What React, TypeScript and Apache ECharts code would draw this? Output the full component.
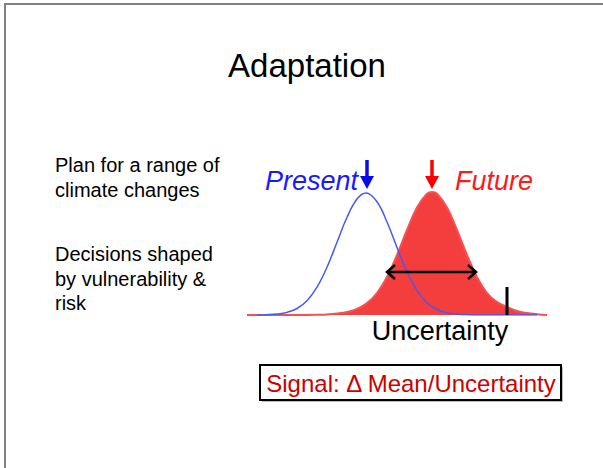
import React, { useEffect, useRef } from "react";
import * as echarts from "echarts";

// Curve samples (x: arbitrary units, y: height)
const presentX = [10, 20, 30, 40, 50, 60, 70, 80, 90, 100, 110, 119, 130, 140, 150, 160, 170, 180, 190, 200, 210, 220, 230, 240, 250, 260, 270, 280, 290];
const presentY = [0.1, 0.3, 0.9, 2.6, 6.5, 14.3, 27.8, 47.8, 72.7, 97.7, 116, 122, 113.2, 93, 67.5, 43.3, 24.6, 12.3, 5.5, 2.1, 0.7, 0.2, 0, 0, 0, 0, 0, 0, 0];
const futureX = [0, 10, 20, 30, 40, 50, 60, 70, 80, 90, 100, 110, 120, 130, 140, 150, 160, 170, 180, 185, 190, 200, 210, 220, 230, 240, 250, 260, 270, 280, 290, 300];
const futureY = [0, 0, 0, 0, 0, 0, 0, 0.2, 0.6, 1.5, 3, 6, 12, 22, 38, 60, 85, 107.6, 121.2, 123, 121.2, 107.6, 85, 60, 38, 22, 13, 8, 4, 2, 0.8, 0];

const presentMean = 119;
const futureMean = 185;
const uncertaintyRange = [140, 229];
const uncertaintyLevel = 43;
const tickX = 260;
const tickHeight = 28;

const titleText = "Adaptation";
const leftLines = ["Plan for a range of", "climate changes", "Decisions shaped", "by vulnerability &", "risk"];
const leftLineY = [165, 190, 254, 279, 303];

const FONT = "'Liberation Sans', Arial, sans-serif";

export default function App() {
  const ref = useRef<HTMLDivElement>(null);
  useEffect(() => {
    document.body.style.margin = "0";
    const chart = echarts.init(ref.current!, null, { renderer: "svg" });
    const zip = (xs: number[], ys: number[]) => xs.map((x, i) => [x, ys[i]]);
    chart.setOption({
      animation: false,
      backgroundColor: "#ffffff",
      grid: { left: 247, top: 185, width: 300, height: 130 },
      xAxis: { type: "value", min: 0, max: 300, show: false },
      yAxis: { type: "value", min: 0, max: 130, show: false },
      series: [
        {
          name: "Future",
          type: "line",
          data: zip(futureX, futureY),
          smooth: 0.4,
          symbol: "none",
          lineStyle: { color: "#f75050", width: 2 },
          areaStyle: { color: "#f43d3d", opacity: 1 },
          z: 2,
        },
        {
          name: "Present",
          type: "line",
          data: zip(presentX, presentY),
          smooth: 0.4,
          symbol: "none",
          lineStyle: { color: "#4a58f0", width: 1.5 },
          z: 3,
        },
      ],
    });

    const px = (x: number, y: number) => chart.convertToPixel({ gridIndex: 0 }, [x, y]) as number[];
    const pm = px(presentMean, 0);
    const fm = px(futureMean, 0);
    const a0 = px(uncertaintyRange[0], uncertaintyLevel);
    const a1 = px(uncertaintyRange[1], uncertaintyLevel);
    const t0 = px(tickX, 0);
    const t1 = px(tickX, tickHeight);

    const downArrow = (x: number, color: string) => [
      { type: "line", shape: { x1: x, y1: 160, x2: x, y2: 180 }, style: { stroke: color, lineWidth: 3.5 }, z: 10 },
      { type: "polygon", shape: { points: [[x - 7, 176], [x + 7, 176], [x, 189]] }, style: { fill: color }, z: 10 },
    ];

    const graphic: any[] = [
      { type: "rect", shape: { x: 5, y: 4, width: 700, height: 600 }, style: { fill: "none", stroke: "#808080", lineWidth: 2 }, z: 1 },
      { type: "text", x: 307, y: 65, style: { text: titleText, font: `33px ${FONT}`, fill: "#000", align: "center", verticalAlign: "middle" } },
      ...leftLines.map((t, i) => ({ type: "text", x: 55, y: leftLineY[i], style: { text: t, font: `20px ${FONT}`, fill: "#000", align: "left", verticalAlign: "middle" } })),
      { type: "text", x: 265, y: 181, style: { text: "Present", font: `italic 27px ${FONT}`, fill: "#1a1aff", align: "left", verticalAlign: "middle" } },
      { type: "text", x: 455, y: 181, style: { text: "Future", font: `italic 27px ${FONT}`, fill: "#ff1a1a", align: "left", verticalAlign: "middle" } },
      ...downArrow(pm[0] + 1, "#0a0ae6"),
      ...downArrow(fm[0], "#ff0000"),
      { type: "line", shape: { x1: a0[0], y1: a0[1], x2: a1[0], y2: a1[1] }, style: { stroke: "#000", lineWidth: 2.5 }, z: 10 },
      { type: "polyline", shape: { points: [[a0[0] + 8, a0[1] - 7], [a0[0], a0[1]], [a0[0] + 8, a0[1] + 7]] }, style: { stroke: "#000", lineWidth: 2.5, fill: "none" }, z: 10 },
      { type: "polyline", shape: { points: [[a1[0] - 8, a1[1] - 7], [a1[0], a1[1]], [a1[0] - 8, a1[1] + 7]] }, style: { stroke: "#000", lineWidth: 2.5, fill: "none" }, z: 10 },
      { type: "line", shape: { x1: t0[0], y1: t0[1], x2: t1[0], y2: t1[1] }, style: { stroke: "#000", lineWidth: 3 }, z: 10 },
      { type: "text", x: 440, y: 331, style: { text: "Uncertainty", font: `27px ${FONT}`, fill: "#000", align: "center", verticalAlign: "middle" } },
      { type: "rect", shape: { x: 262, y: 367, width: 301, height: 35 }, style: { fill: "#bbbbbb", stroke: "none" }, z: 9 },
      { type: "rect", shape: { x: 260, y: 365, width: 301, height: 35 }, style: { fill: "#ffffff", stroke: "#000", lineWidth: 2 }, z: 10 },
      { type: "text", x: 411, y: 383, z: 11, style: { text: "Signal: Δ Mean/Uncertainty", font: `24px ${FONT}`, fill: "#cc0000", align: "center", verticalAlign: "middle" } },
    ];
    chart.setOption({ graphic });
    return () => chart.dispose();
  }, []);
  return <div ref={ref} style={{ width: 603, height: 468 }} />;
}
